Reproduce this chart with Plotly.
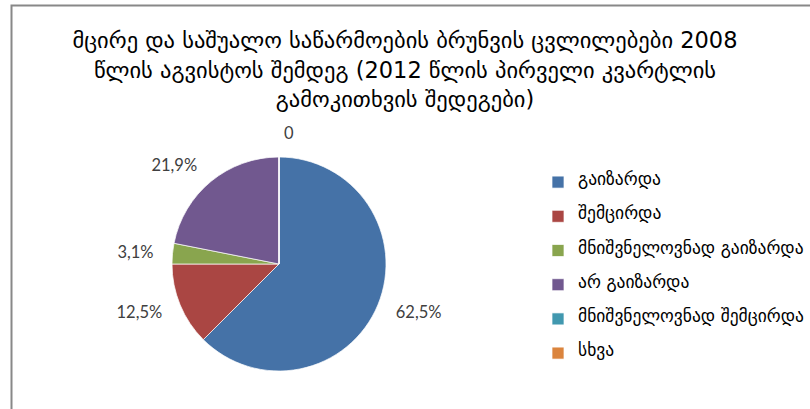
import plotly.graph_objects as go

title_lines = [
    "მცირე და საშუალო საწარმოების ბრუნვის ცვლილებები 2008",
    "წლის აგვისტოს შემდეგ (2012 წლის პირველი კვარტლის",
    "გამოკითხვის შედეგები)",
]
categories = [
    "გაიზარდა",
    "შემცირდა",
    "მნიშვნელოვნად გაიზარდა",
    "არ გაიზარდა",
    "მნიშვნელოვნად შემცირდა",
    "სხვა",
]
values = [62.5, 12.5, 3.1, 21.9, 0, 0]
colors = ["#4572A7", "#AA4643", "#89A54E", "#71588F", "#4198AF", "#DB843D"]

W, H = 810, 409

def fmt(v):
    return "0" if v == 0 else f"{v:.1f}%".replace(".", ",")

# zero slices overlap at the same spot in the original, so only one "0" shows
slice_text = []
zero_shown = False
for v in values:
    if v == 0:
        slice_text.append("" if zero_shown else "0")
        zero_shown = True
    else:
        slice_text.append(fmt(v))

legend_labels = [
    f" <br><span style='font-size:17.5px'>{c}</span><br> " for c in categories
]

cx, cy, r = 279, 264, 107
r_lab = 121  # labels sit a little further out than the pie edge


def dom(rad):
    return dict(
        x=[(cx - rad) / W, (cx + rad) / W],
        y=[(H - cy - rad) / H, (H - cy + rad) / H],
    )


fig = go.Figure()
fig.add_trace(
    go.Pie(
        labels=legend_labels,
        values=values,
        textinfo="none",
        sort=False,
        direction="clockwise",
        rotation=0,
        marker=dict(colors=colors, line=dict(color="rgba(255,255,255,0.7)", width=1)),
        domain=dom(r),
        hoverinfo="none",
    )
)
fig.add_trace(
    go.Pie(
        labels=legend_labels,
        values=values,
        text=slice_text,
        textinfo="text",
        textposition="outside",
        sort=False,
        direction="clockwise",
        rotation=0,
        showlegend=False,
        marker=dict(colors=["rgba(0,0,0,0)"] * len(values), line=dict(width=0)),
        textfont=dict(family="Lato, Liberation Sans, sans-serif", size=16.5, color="#404040"),
        domain=dom(r_lab),
        hoverinfo="none",
    )
)

title_text = "<br>".join(f"<span style='font-size:22.5px'>{t}</span>" for t in title_lines)

fig.update_layout(
    width=W,
    height=H,
    margin=dict(l=0, r=0, t=0, b=0),
    paper_bgcolor="white",
    plot_bgcolor="white",
    title=dict(
        text=title_text,
        x=0.5,
        xanchor="center",
        y=1 - 48 / H,
        yanchor="top",
        font=dict(family="DejaVu Sans", size=22.7, color="#000000"),
    ),
    legend=dict(
        x=538 / W,
        xanchor="left",
        y=1 - 160 / H,
        yanchor="top",
        font=dict(family="DejaVu Sans", size=8, color="#000000"),
        bgcolor="rgba(0,0,0,0)",
    ),
    shapes=[
        dict(
            type="rect",
            xref="paper",
            yref="paper",
            x0=11.5 / W,
            x1=1.02,
            y0=-0.05,
            y1=1 - 5.5 / H,
            line=dict(color="#888888", width=2),
            fillcolor="rgba(0,0,0,0)",
            layer="above",
        )
    ],
)

fig.write_html(
    "out.html",
    config={"displayModeBar": False},
    post_script="document.body.style.margin='0px';",
)
